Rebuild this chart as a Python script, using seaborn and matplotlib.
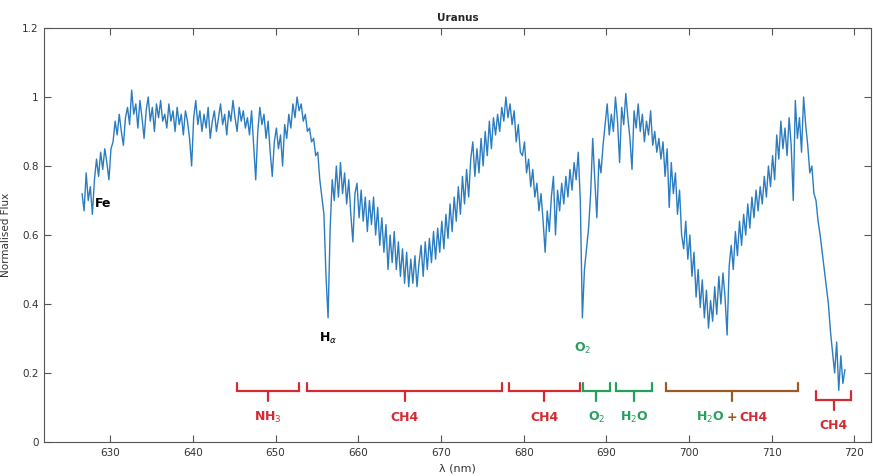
import numpy as np
import pandas as pd
import matplotlib
matplotlib.use("Agg")
import matplotlib.pyplot as plt
import matplotlib.ticker as mticker
import seaborn as sns

# ---------------- data ----------------
wl_start = 626.6
wl_step = 0.25

flux_626_636 = [0.72, 0.67, 0.78, 0.70, 0.74, 0.66, 0.76, 0.82, 0.77, 0.84,
                0.79, 0.85, 0.81, 0.76, 0.85, 0.87, 0.93, 0.89, 0.95, 0.90,
                0.86, 0.94, 0.97, 0.92, 1.02, 0.95, 0.98, 0.91, 0.99, 0.94,
                0.88, 0.96, 1.00, 0.93, 0.97, 0.90, 0.98, 0.94, 0.99, 0.93]
flux_636_646 = [0.95, 0.91, 0.98, 0.93, 0.96, 0.90, 0.97, 0.92, 0.95, 0.89,
                0.96, 0.93, 0.88, 0.80, 0.94, 0.99, 0.92, 0.96, 0.90, 0.95,
                0.91, 0.97, 0.88, 0.93, 0.96, 0.90, 0.94, 0.98, 0.92, 0.95,
                0.89, 0.96, 0.93, 0.99, 0.94, 0.90, 0.97, 0.93, 0.96, 0.91]
flux_646_656 = [0.94, 0.89, 0.96, 0.86, 0.76, 0.90, 0.97, 0.92, 0.95, 0.88,
                0.93, 0.84, 0.77, 0.87, 0.91, 0.85, 0.89, 0.80, 0.92, 0.88,
                0.95, 0.91, 0.98, 0.94, 1.00, 0.96, 0.98, 0.93, 0.95, 0.90,
                0.91, 0.87, 0.88, 0.83, 0.84, 0.76, 0.71, 0.66, 0.48, 0.36]
flux_656_666 = [0.62, 0.76, 0.70, 0.80, 0.71, 0.81, 0.72, 0.78, 0.69, 0.76,
                0.66, 0.58, 0.72, 0.75, 0.65, 0.73, 0.64, 0.71, 0.61, 0.70,
                0.63, 0.71, 0.60, 0.68, 0.57, 0.65, 0.55, 0.63, 0.50, 0.60,
                0.52, 0.61, 0.50, 0.58, 0.48, 0.56, 0.46, 0.55, 0.45, 0.53]
flux_666_676 = [0.46, 0.54, 0.45, 0.52, 0.57, 0.48, 0.58, 0.50, 0.59, 0.52,
                0.61, 0.53, 0.62, 0.55, 0.64, 0.56, 0.66, 0.59, 0.69, 0.61,
                0.71, 0.64, 0.74, 0.66, 0.77, 0.69, 0.79, 0.71, 0.82, 0.87,
                0.77, 0.85, 0.78, 0.88, 0.80, 0.90, 0.83, 0.93, 0.85, 0.94]
flux_676_686 = [0.89, 0.95, 0.90, 0.97, 0.93, 1.00, 0.94, 0.98, 0.92, 0.96,
                0.87, 0.92, 0.84, 0.83, 0.87, 0.78, 0.82, 0.74, 0.79, 0.71,
                0.75, 0.67, 0.72, 0.64, 0.55, 0.67, 0.61, 0.71, 0.77, 0.60,
                0.73, 0.67, 0.75, 0.69, 0.77, 0.71, 0.79, 0.73, 0.81, 0.76]
flux_686_696 = [0.84, 0.70, 0.36, 0.50, 0.56, 0.62, 0.72, 0.88, 0.76, 0.65,
                0.82, 0.78, 0.86, 0.92, 0.98, 0.89, 0.95, 0.90, 1.00, 0.93,
                0.81, 0.97, 0.92, 1.01, 0.94, 0.88, 0.79, 0.96, 0.91, 0.98,
                0.90, 0.95, 0.87, 0.93, 0.89, 0.96, 0.86, 0.90, 0.84, 0.88]
flux_696_706 = [0.82, 0.87, 0.77, 0.85, 0.68, 0.81, 0.72, 0.78, 0.66, 0.73,
                0.60, 0.56, 0.64, 0.53, 0.60, 0.48, 0.55, 0.42, 0.50, 0.39,
                0.47, 0.36, 0.44, 0.33, 0.41, 0.35, 0.45, 0.37, 0.48, 0.40,
                0.49, 0.42, 0.31, 0.51, 0.57, 0.50, 0.61, 0.54, 0.64, 0.57]
flux_706_716 = [0.66, 0.60, 0.69, 0.62, 0.71, 0.65, 0.73, 0.67, 0.74, 0.69,
                0.77, 0.71, 0.80, 0.74, 0.83, 0.76, 0.89, 0.82, 0.93, 0.85,
                0.91, 0.83, 0.94, 0.86, 0.70, 0.99, 0.88, 0.94, 0.84, 1.00,
                0.92, 0.86, 0.78, 0.80, 0.72, 0.70, 0.64, 0.60, 0.55, 0.50]
flux_716_719 = [0.45, 0.40, 0.32, 0.26, 0.20, 0.29, 0.15, 0.25, 0.17, 0.21]

# absorption band annotations
band_start = [645.3, 653.8, 678.2, 687.2, 691.2, 697.2, 715.4]
band_end = [652.8, 677.4, 686.8, 690.4, 695.5, 713.2, 719.6]
band_color = ["red", "red", "red", "green", "green", "brown", "red"]
band_label = ["NH$_3$", "CH4", "CH4", "O$_2$", "H$_2$O", None, "CH4"]
band_low = [False, False, False, False, False, False, True]

x_ticks = [630, 640, 650, 660, 670, 680, 690, 700, 710, 720]
y_ticks = [0, 0.2, 0.4, 0.6, 0.8, 1.0, 1.2]
y_tick_labels = ["0", "0.2", "0.4", "0.6", "0.8", "1", "1.2"]

# ---------------- build ----------------
flux = np.array(flux_626_636 + flux_636_646 + flux_646_656 + flux_656_666 +
                flux_666_676 + flux_676_686 + flux_686_696 + flux_696_706 +
                flux_706_716 + flux_716_719)
wl = wl_start + wl_step * np.arange(len(flux))
df = pd.DataFrame({"wl": wl, "flux": flux})

sns.set_theme(style="ticks")
plt.rcParams["font.family"] = ["DejaVu Sans"]

COL = {"red": "#d42a32", "green": "#25a05c", "brown": "#9a5b22"}
LINE = "#2b7cc0"
AX = "#555555"

fig = plt.figure(figsize=(8.73, 4.76), dpi=100)
ax = fig.add_axes([44 / 873, 1 - 442 / 476, (871 - 44) / 873, (442 - 28) / 476])

sns.lineplot(data=df, x="wl", y="flux", ax=ax, color=LINE, linewidth=1.0,
             estimator=None, sort=False)

ax.set_xlim(622, 722)
ax.set_ylim(0, 1.2)
ax.xaxis.set_major_locator(mticker.FixedLocator(x_ticks))
ax.yaxis.set_major_locator(mticker.FixedLocator(y_ticks))
ax.yaxis.set_major_formatter(mticker.FixedFormatter(y_tick_labels))
ax.tick_params(direction="in", top=True, right=True, length=5, width=0.8,
               colors=AX, labelsize=7.5, labelcolor="#333333", pad=4)
for s in ax.spines.values():
    s.set_visible(True)
    s.set_color(AX)
    s.set_linewidth(0.8)

ax.set_title("Uranus", fontsize=7.5, fontweight="bold", pad=5)
ax.set_xlabel("λ (nm)", fontsize=8, color="#333333", labelpad=4)
ax.set_ylabel("Normalised Flux", fontsize=7.5, color="#333333", labelpad=8)

# line annotations
ax.text(628.1, 0.69, "Fe", fontsize=9, fontweight="bold", color="black",
        ha="left", va="center")
ax.text(655.2, 0.30, r"H$_\alpha$", fontsize=9, fontweight="bold",
        color="black", ha="left", va="center")
ax.text(687.1, 0.27, r"O$_2$", fontsize=9, fontweight="bold",
        color=COL["green"], ha="center", va="center")

# brackets
for s, e, c, lab, low in zip(band_start, band_end, band_color, band_label, band_low):
    off = -0.025 if low else 0.0
    top, mid, tick = 0.172 + off, 0.148 + off, 0.118 + off
    col = COL[c]
    m = (s + e) / 2
    ax.plot([s, s, e, e], [top, mid, mid, top], color=col, lw=1.6,
            solid_joinstyle="miter")
    ax.plot([m, m], [mid, tick], color=col, lw=1.6)
    if lab is not None:
        ax.text(m, 0.072 + off, lab, fontsize=9, fontweight="bold", color=col,
                ha="center", va="center")

# combined label H2O + CH4
m = (band_start[5] + band_end[5]) / 2
ax.text(m - 0.9, 0.072, r"H$_2$O", fontsize=9, fontweight="bold",
        color=COL["green"], ha="right", va="center")
ax.text(m, 0.072, "+", fontsize=9, fontweight="bold", color=COL["brown"],
        ha="center", va="center")
ax.text(m + 0.9, 0.072, "CH4", fontsize=9, fontweight="bold",
        color=COL["red"], ha="left", va="center")

fig.savefig("out.png", dpi=100)
